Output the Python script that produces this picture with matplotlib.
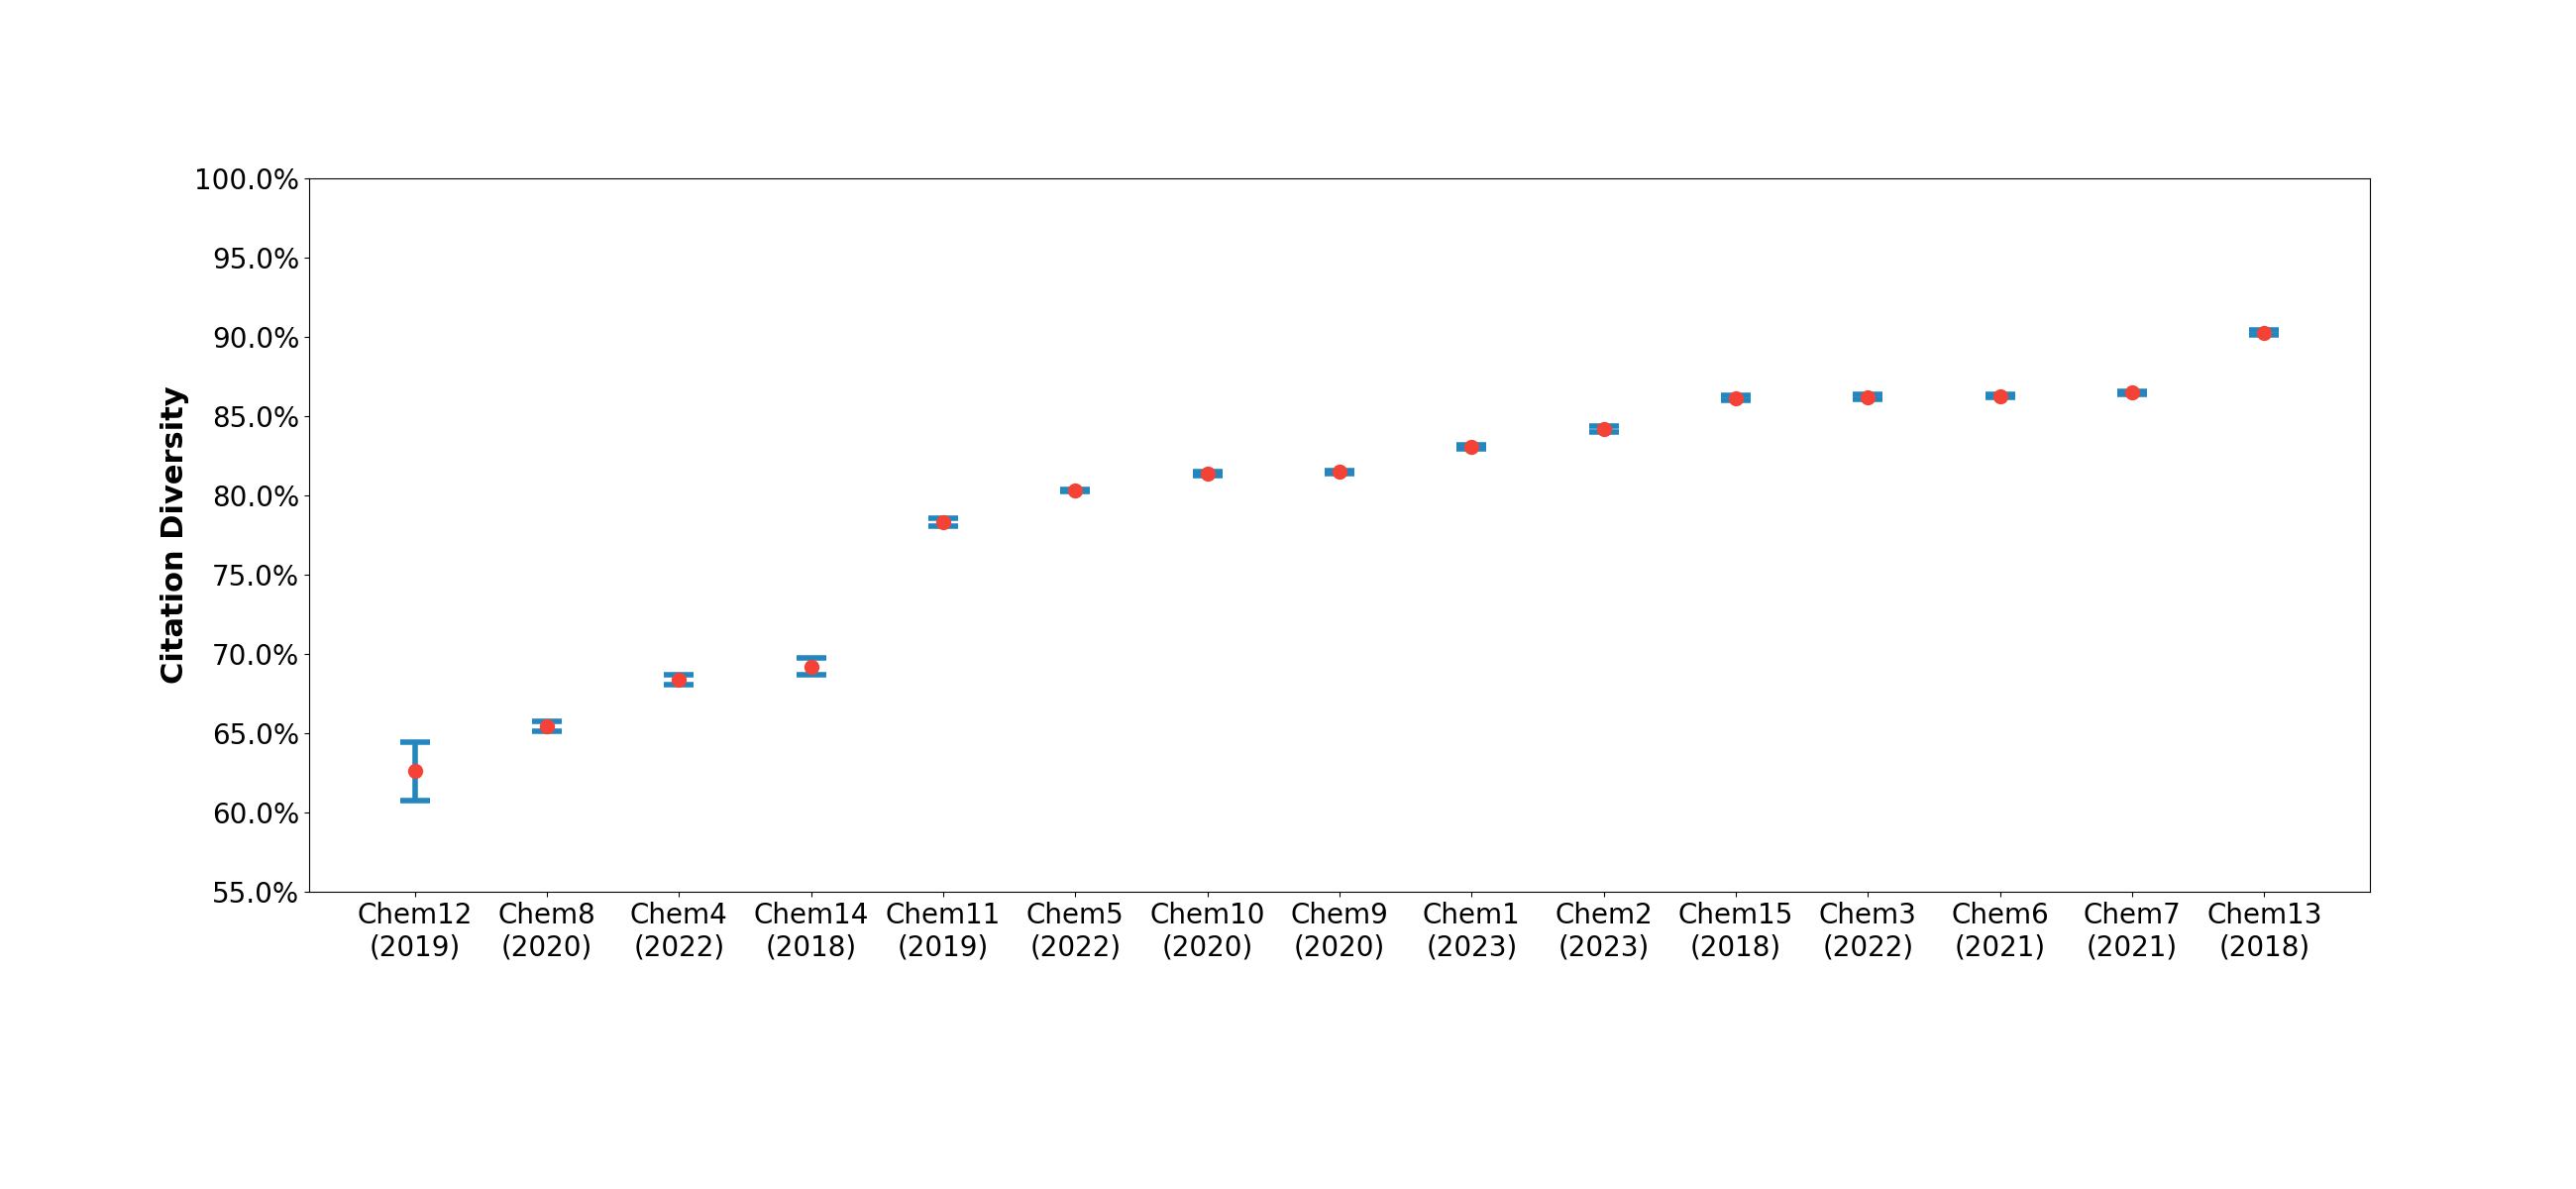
import numpy as np
import matplotlib
matplotlib.use("Agg")
import matplotlib.pyplot as plt
from matplotlib.ticker import FuncFormatter

# chemicals, sorted by mean citation diversity
names = ["Chem12", "Chem8", "Chem4", "Chem14", "Chem11", "Chem5", "Chem10", "Chem9",
         "Chem1", "Chem2", "Chem15", "Chem3", "Chem6", "Chem7", "Chem13"]
years = [2019, 2020, 2022, 2018, 2019, 2022, 2020, 2020,
         2023, 2023, 2018, 2022, 2021, 2021, 2018]

# mean diversity (%) and half-width of the error bar (%)
means = [62.6, 65.45, 68.38, 69.2, 78.33, 80.3, 81.36, 81.47,
         83.05, 84.17, 86.15, 86.2, 86.28, 86.47, 90.27]
errors = [1.82, 0.30, 0.32, 0.53, 0.26, 0.07, 0.12, 0.09,
          0.12, 0.19, 0.18, 0.15, 0.11, 0.11, 0.15]

labels = [f"{n}\n({y})" for n, y in zip(names, years)]
x = np.arange(len(names))

fig, ax = plt.subplots(figsize=(26, 12), dpi=100)
fig.subplots_adjust(left=0.12, right=0.92, top=0.85, bottom=0.25)

# error bars first, then the red means on top
ax.errorbar(x, means, yerr=errors, fmt="none", ecolor="#2387BE",
            elinewidth=4, capsize=11, capthick=4, zorder=2)
ax.plot(x, means, "o", color="#F44336", markersize=10, zorder=3)

ax.set_xlim(-0.8, len(names) - 0.2)
ax.set_ylim(55, 100)
ax.set_yticks(np.arange(55, 100.1, 5))
ax.yaxis.set_major_formatter(FuncFormatter(lambda v, p: f"{v:.1f}%"))

ax.set_xticks(x)
ax.set_xticklabels(labels)
ax.tick_params(axis="both", labelsize=20)

ax.set_ylabel("Citation Diversity", fontsize=22, fontweight="bold")

fig.savefig("out.png", dpi=100)
